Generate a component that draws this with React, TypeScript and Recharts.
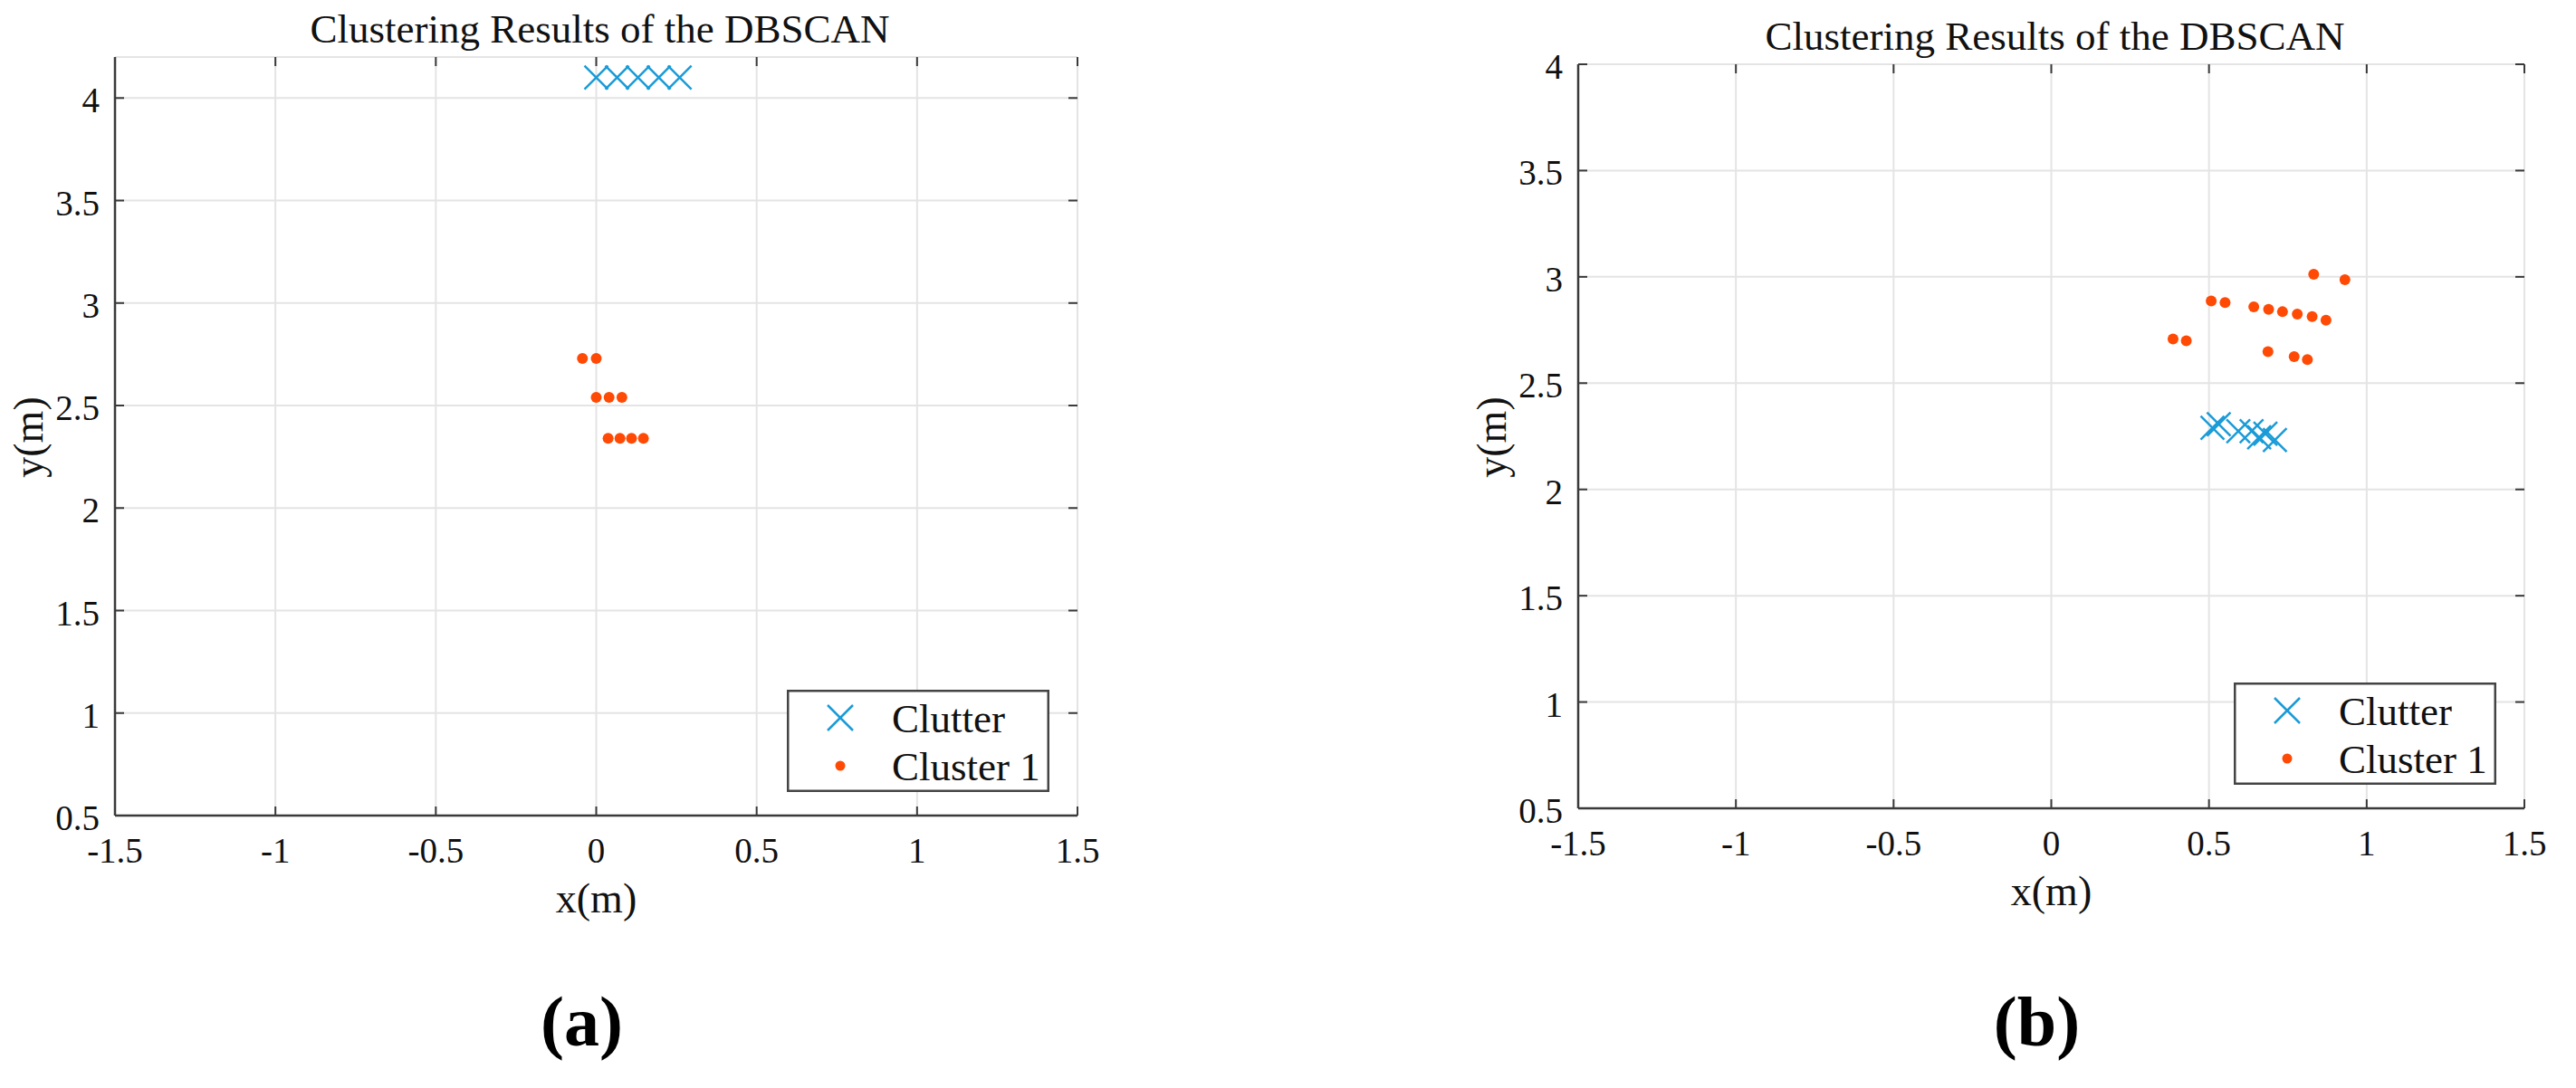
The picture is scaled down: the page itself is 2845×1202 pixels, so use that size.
import { ScatterChart, Scatter, XAxis, YAxis, CartesianGrid, Legend } from 'recharts';

document.body.style.margin = '0';

const SERIF = "'Liberation Serif', 'Times New Roman', serif";
const BLUE = '#1a9bd7';
const ORANGE = '#ff4a05';
const AXIS = '#3a3a3a';
const GRID = '#e4e4e4';

const titleText = 'Clustering Results of the DBSCAN';
const xLabel = 'x(m)';
const yLabel = 'y(m)';
const seriesNames = ['Clutter', 'Cluster 1'];
const panelNames = ['(a)', '(b)'];

const xTicks = [-1.5, -1, -0.5, 0, 0.5, 1, 1.5];
const yTicks = [0.5, 1, 1.5, 2, 2.5, 3, 3.5, 4];
const xDomain = [-1.5, 1.5];
const yDomainA = [0.5, 4.2];
const yDomainB = [0.5, 4];

// panel (a)
const clutterA = [
  { x: 0.0, y: 4.1 },
  { x: 0.065, y: 4.1 },
  { x: 0.13, y: 4.1 },
  { x: 0.195, y: 4.1 },
  { x: 0.26, y: 4.1 },
];
const clusterA = [
  { x: -0.043, y: 2.73 },
  { x: 0.0, y: 2.73 },
  { x: 0.0, y: 2.54 },
  { x: 0.04, y: 2.54 },
  { x: 0.08, y: 2.54 },
  { x: 0.037, y: 2.34 },
  { x: 0.074, y: 2.34 },
  { x: 0.11, y: 2.34 },
  { x: 0.147, y: 2.34 },
];

// panel (b)
const clutterB = [
  { x: 0.511, y: 2.29 },
  { x: 0.531, y: 2.307 },
  { x: 0.593, y: 2.274 },
  { x: 0.635, y: 2.274 },
  { x: 0.659, y: 2.245 },
  { x: 0.679, y: 2.262 },
  { x: 0.709, y: 2.232 },
];
const clusterB = [
  { x: 0.832, y: 3.012 },
  { x: 0.931, y: 2.987 },
  { x: 0.507, y: 2.887 },
  { x: 0.551, y: 2.879 },
  { x: 0.642, y: 2.859 },
  { x: 0.689, y: 2.847 },
  { x: 0.733, y: 2.836 },
  { x: 0.78, y: 2.825 },
  { x: 0.827, y: 2.813 },
  { x: 0.871, y: 2.796 },
  { x: 0.386, y: 2.708 },
  { x: 0.428, y: 2.699 },
  { x: 0.687, y: 2.648 },
  { x: 0.77, y: 2.625 },
  { x: 0.812, y: 2.611 },
];

type Pt = { x: number; y: number };

const Cross = ({ cx, cy, s = 13 }: { cx: number; cy: number; s?: number }) => (
  <g stroke={BLUE} strokeWidth={2.5}>
    <line x1={cx - s} y1={cy - s} x2={cx + s} y2={cy + s} />
    <line x1={cx - s} y1={cy + s} x2={cx + s} y2={cy - s} />
  </g>
);

const Dot = ({ cx, cy }: { cx: number; cy: number }) => <circle cx={cx} cy={cy} r={6} fill={ORANGE} />;

// bottom tick: label + inward ticks at bottom and top of the box
const makeXTick = (plotTop: number) => (props: any) => {
  const { x, y, payload } = props;
  return (
    <g>
      <line x1={x} x2={x} y1={y} y2={y - 10} stroke={AXIS} strokeWidth={2} />
      <line x1={x} x2={x} y1={plotTop} y2={plotTop + 10} stroke={AXIS} strokeWidth={2} />
      <text x={x} y={y + 52} textAnchor="middle" fontFamily={SERIF} fontSize={39} fill="#111">
        {payload.value}
      </text>
    </g>
  );
};

// left tick: label + inward ticks at left and right of the box
const makeYTick = (plotRight: number) => (props: any) => {
  const { x, y, payload } = props;
  return (
    <g>
      <line x1={x} x2={x + 10} y1={y} y2={y} stroke={AXIS} strokeWidth={2} />
      <line x1={plotRight} x2={plotRight - 10} y1={y} y2={y} stroke={AXIS} strokeWidth={2} />
      <text x={x - 17} y={y + 16} textAnchor="end" fontFamily={SERIF} fontSize={39} fill="#111">
        {payload.value}
      </text>
    </g>
  );
};

const LegendBox = () => (
  <svg width={290} height={113} style={{ display: 'block' }}>
    <rect x={1.25} y={1.25} width={287.5} height={110.5} fill="#fff" stroke="#444" strokeWidth={2.5} />
    <Cross cx={59} cy={31} s={14} />
    <circle cx={59} cy={84} r={5.5} fill={ORANGE} />
    <text x={116} y={47} fontFamily={SERIF} fontSize={45} fill="#111">{seriesNames[0]}</text>
    <text x={116} y={100} fontFamily={SERIF} fontSize={45} fill="#111">{seriesNames[1]}</text>
  </svg>
);

interface PanelProps {
  left: number;
  width: number;
  plotLeft: number;
  plotRight: number;
  plotTop: number;
  plotBottom: number;
  yDomain: number[];
  clutter: Pt[];
  cluster: Pt[];
  tag: string;
}

const H = 1202;
const YW = 100;
const XH = 60;

function Panel({ left, width, plotLeft, plotRight, plotTop, plotBottom, yDomain, clutter, cluster, tag }: PanelProps) {
  const cx = (plotLeft + plotRight) / 2;
  const cy = (plotTop + plotBottom) / 2;
  const XTick = makeXTick(plotTop);
  const YTick = makeYTick(plotRight);
  return (
    <div style={{ position: 'absolute', left, top: 0 }}>
      <ScatterChart
        width={width}
        height={H}
        margin={{ top: plotTop, left: plotLeft - YW, right: width - plotRight, bottom: H - plotBottom - XH }}
      >
        <CartesianGrid stroke={GRID} strokeWidth={2} />
        <XAxis
          type="number"
          dataKey="x"
          domain={xDomain}
          ticks={xTicks}
          allowDataOverflow
          height={XH}
          tickSize={0}
          tickMargin={0}
          tickLine={false}
          axisLine={{ stroke: AXIS, strokeWidth: 2.5 }}
          tick={<XTick />}
          label={() => (
            <g>
              <text x={cx + 4} y={plotTop - 16} textAnchor="middle" fontFamily={SERIF} fontSize={45} fill="#111">
                {titleText}
              </text>
              <text x={cx} y={plotBottom + 107} textAnchor="middle" fontFamily={SERIF} fontSize={46} fill="#111">
                {xLabel}
              </text>
              <text x={cx - 16} y={1155} textAnchor="middle" fontFamily={SERIF} fontWeight="bold" fontSize={78} fill="#000">
                {tag}
              </text>
            </g>
          )}
        />
        <XAxis
          xAxisId="top"
          orientation="top"
          mirror
          type="number"
          domain={xDomain}
          ticks={xTicks}
          allowDataOverflow
          height={0}
          tick={false}
          tickLine={false}
          axisLine={{ stroke: AXIS, strokeWidth: 2.5 }}
        />
        <YAxis
          type="number"
          dataKey="y"
          domain={yDomain}
          ticks={yTicks}
          allowDataOverflow
          width={YW}
          tickSize={0}
          tickMargin={0}
          tickLine={false}
          axisLine={{ stroke: AXIS, strokeWidth: 2.5 }}
          tick={<YTick />}
          label={() => (
            <text
              x={plotLeft - 80}
              y={cy + 1}
              transform={`rotate(-90 ${plotLeft - 80} ${cy + 1})`}
              textAnchor="middle"
              fontFamily={SERIF}
              fontSize={46}
              fill="#111"
            >
              {yLabel}
            </text>
          )}
        />
        <YAxis
          yAxisId="right"
          orientation="right"
          mirror
          type="number"
          domain={yDomain}
          ticks={yTicks}
          allowDataOverflow
          width={0}
          tick={false}
          tickLine={false}
          axisLine={{ stroke: AXIS, strokeWidth: 2.5 }}
        />
        <Scatter
          name={seriesNames[0]}
          data={clutter}
          fill={BLUE}
          isAnimationActive={false}
          shape={(p: any) => <Cross cx={p.cx} cy={p.cy} />}
        />
        <Scatter
          name={seriesNames[1]}
          data={cluster}
          fill={ORANGE}
          isAnimationActive={false}
          shape={(p: any) => <Dot cx={p.cx} cy={p.cy} />}
        />
        <Legend
          layout="vertical"
          align="center"
          verticalAlign="middle"
          wrapperStyle={{ left: plotRight - 31 - 290, top: plotBottom - 26 - 113, width: 290, height: 113 }}
          content={() => <LegendBox />}
        />
      </ScatterChart>
    </div>
  );
}

export default function App() {
  return (
    <div style={{ position: 'relative', width: 2845, height: H, background: '#fff', overflow: 'hidden' }}>
      <Panel
        left={0}
        width={1300}
        plotLeft={127}
        plotRight={1190}
        plotTop={63}
        plotBottom={901}
        yDomain={yDomainA}
        clutter={clutterA}
        cluster={clusterA}
        tag={panelNames[0]}
      />
      <Panel
        left={1500}
        width={1345}
        plotLeft={243}
        plotRight={1288}
        plotTop={71}
        plotBottom={893}
        yDomain={yDomainB}
        clutter={clutterB}
        cluster={clusterB}
        tag={panelNames[1]}
      />
    </div>
  );
}
